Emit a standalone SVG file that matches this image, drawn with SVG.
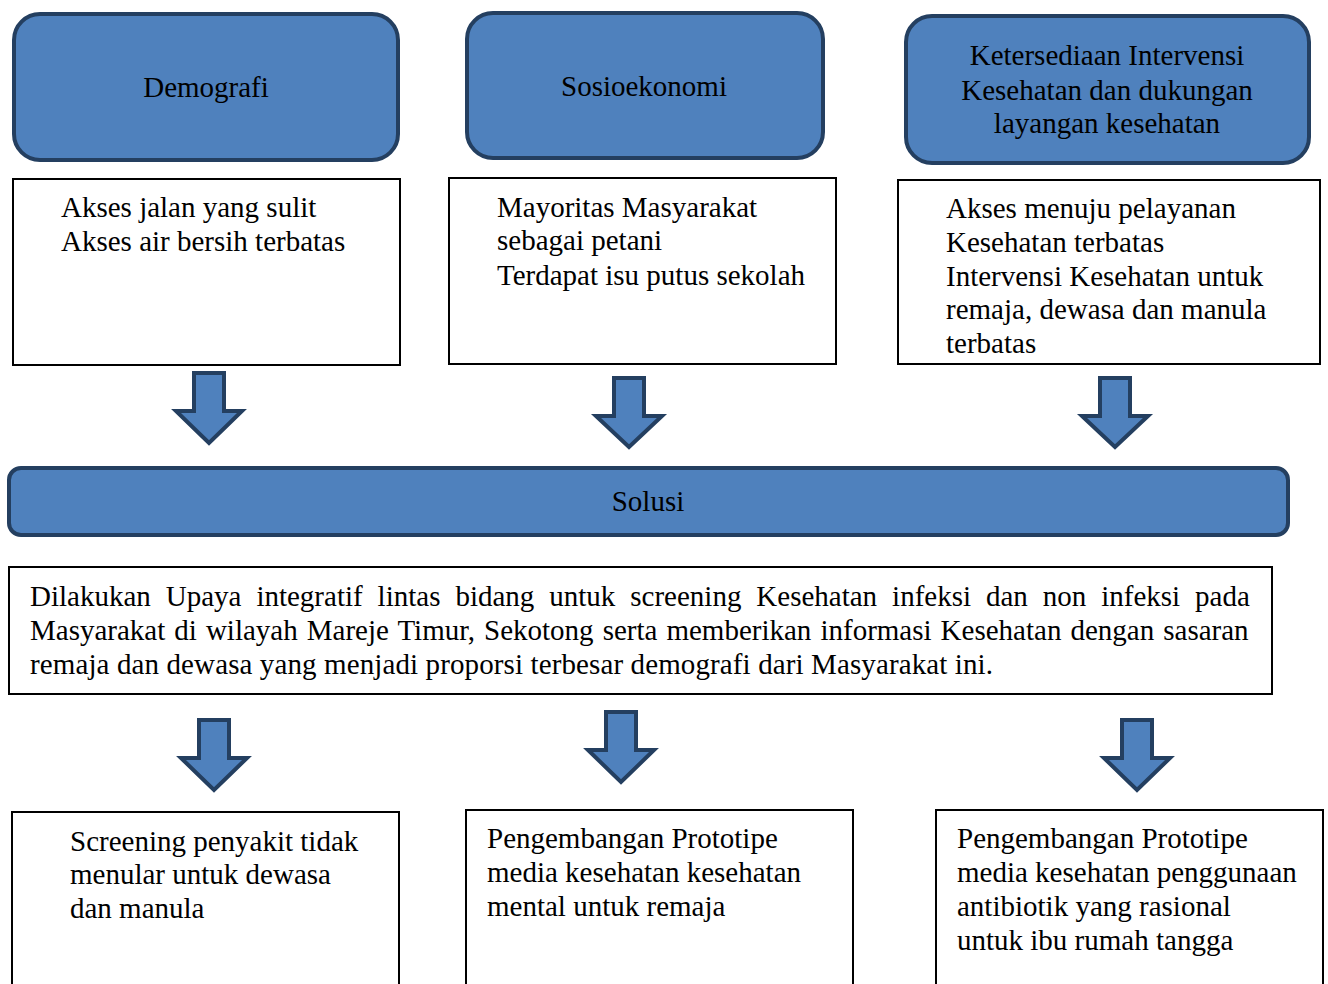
<svg xmlns="http://www.w3.org/2000/svg" width="1328" height="984" viewBox="0 0 1328 984">
<style>
.hdr{fill:#4F81BD;stroke:#243F60;stroke-width:4}
.box{fill:#FFFFFF;stroke:#000000;stroke-width:2}
.arr{fill:#4F81BD;stroke:#243F60;stroke-width:4;stroke-linejoin:miter}
text{font-family:"Liberation Serif","Times New Roman",serif;font-size:29px;fill:#000000}
.c{text-anchor:middle}
</style>
<rect width="1328" height="984" fill="#FFFFFF"/>
<g id="demografi">
<rect class="hdr" x="14" y="14" width="384" height="146" rx="26"/>
<text class="c" x="206" y="97">Demografi</text>
</g>
<g id="sosioekonomi">
<rect class="hdr" x="467" y="13" width="356" height="145" rx="26"/>
<text class="c" x="644" y="96">Sosioekonomi</text>
</g>
<g id="ketersediaan">
<rect class="hdr" x="906" y="16" width="403" height="147" rx="26"/>
<text class="c" x="1107" y="65">Ketersediaan Intervensi</text>
<text class="c" x="1107" y="100">Kesehatan dan dukungan</text>
<text class="c" x="1107" y="133">layangan kesehatan</text>
</g>
<g id="demografi-detail">
<rect class="box" x="13" y="179" width="387" height="186"/>
<text x="61" y="217">Akses jalan yang sulit</text>
<text x="61" y="251">Akses air bersih terbatas</text>
</g>
<g id="sosioekonomi-detail">
<rect class="box" x="449" y="178" width="387" height="186"/>
<text x="497" y="217">Mayoritas Masyarakat</text>
<text x="497" y="250">sebagai petani</text>
<text x="497" y="285">Terdapat isu putus sekolah</text>
</g>
<g id="ketersediaan-detail">
<rect class="box" x="898" y="180" width="422" height="184"/>
<text x="946" y="218">Akses menuju pelayanan</text>
<text x="946" y="252">Kesehatan terbatas</text>
<text x="946" y="286">Intervensi Kesehatan untuk</text>
<text x="946" y="319">remaja, dewasa dan manula</text>
<text x="946" y="353">terbatas</text>
</g>
<g id="solusi">
<rect class="hdr" x="9" y="468" width="1279" height="67" rx="12"/>
<text class="c" x="648" y="511">Solusi</text>
</g>
<g id="solusi-detail">
<rect class="box" x="9" y="567" width="1263" height="127"/>
<text x="30" y="606" word-spacing="7.7">Dilakukan Upaya integratif lintas bidang untuk screening Kesehatan infeksi dan non infeksi pada</text>
<text x="30" y="640" word-spacing="1.8">Masyarakat di wilayah Mareje Timur, Sekotong serta memberikan informasi Kesehatan dengan sasaran</text>
<text x="30" y="674" textLength="963" lengthAdjust="spacing">remaja dan dewasa yang menjadi proporsi terbesar demografi dari Masyarakat ini.</text>
</g>
<g id="screening">
<rect class="box" x="12" y="812" width="387" height="200"/>
<text x="70" y="851">Screening penyakit tidak</text>
<text x="70" y="884">menular untuk dewasa</text>
<text x="70" y="918">dan manula</text>
</g>
<g id="prototipe-mental">
<rect class="box" x="466" y="810" width="387" height="200"/>
<text x="487" y="848">Pengembangan Prototipe</text>
<text x="487" y="882">media kesehatan kesehatan</text>
<text x="487" y="916">mental untuk remaja</text>
</g>
<g id="prototipe-antibiotik">
<rect class="box" x="936" y="810" width="387" height="200"/>
<text x="957" y="848">Pengembangan Prototipe</text>
<text x="957" y="882">media kesehatan penggunaan</text>
<text x="957" y="916">antibiotik yang rasional</text>
<text x="957" y="950">untuk ibu rumah tangga</text>
</g>
<g id="connectors">
<path class="arr" d="M194,373 H224 V411 H242 L209,443 L176,411 H194 Z"/>
<path class="arr" d="M614,378 H644 V416 H662 L629,447 L596,416 H614 Z"/>
<path class="arr" d="M1100,378 H1130 V416 H1148 L1115,447 L1082,416 H1100 Z"/>
<path class="arr" d="M199,720 H229 V758 H247 L214,790 L181,758 H199 Z"/>
<path class="arr" d="M606,712 H636 V750 H654 L621,782 L588,750 H606 Z"/>
<path class="arr" d="M1122,720 H1152 V758 H1170 L1137,790 L1104,758 H1122 Z"/>
</g>
</svg>
